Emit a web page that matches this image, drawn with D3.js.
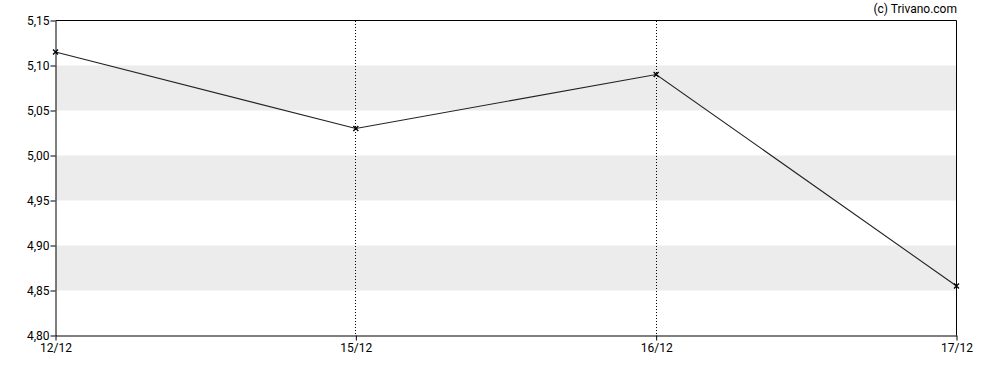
<!DOCTYPE html>
<html><head><meta charset="utf-8">
<script src="https://cdn.jsdelivr.net/npm/d3@7"></script>
<style>body{margin:0;background:#fff;}svg{display:block;font-family:Roboto,Arial,sans-serif;}</style>
</head><body>
<svg id="c" width="988" height="370"></svg>
<script>
const categories = ["12/12","15/12","16/12","17/12"];
const values = [5.115, 5.03, 5.09, 4.855];
const yTicks = [4.80,4.85,4.90,4.95,5.00,5.05,5.10,5.15];
const bands = [[4.85,4.90],[4.95,5.00],[5.05,5.10]];

const svg = d3.select("#c");
const L=55.5, R=956.5, T=20.5, B=335.5;
const x = d3.scalePoint().domain(categories).range([L,R]);
const y = d3.scaleLinear().domain([4.80,5.15]).range([B,T]);
const fmt = v => d3.format(".2f")(v).replace(".",",");

svg.append("g").selectAll("rect").data(bands).join("rect")
  .attr("x",L).attr("width",R-L)
  .attr("y",d=>y(d[1])).attr("height",d=>y(d[0])-y(d[1]))
  .attr("fill","#ececec");

svg.append("g").selectAll("line").data(categories.slice(1,-1)).join("line")
  .attr("x1",d=>x(d)).attr("x2",d=>x(d)).attr("y1",T).attr("y2",B)
  .attr("stroke","#000").attr("stroke-dasharray","1,2").attr("shape-rendering","crispEdges");

svg.append("line").attr("x1",L).attr("x2",R).attr("y1",T).attr("y2",T).attr("stroke","#000");
svg.append("line").attr("x1",R).attr("x2",R).attr("y1",T).attr("y2",B).attr("stroke","#000");

const yAxis = svg.append("g").attr("transform",`translate(${L},0)`)
  .call(d3.axisLeft(y).tickValues(yTicks).tickFormat(fmt).tickSize(5).tickSizeOuter(0));
const xAxis = svg.append("g").attr("transform",`translate(0,${B})`)
  .call(d3.axisBottom(x).tickSize(5).tickSizeOuter(0));
[yAxis,xAxis].forEach(g=>{
  g.select(".domain").attr("stroke","#000");
  g.selectAll(".tick line").attr("stroke","#000");
  g.selectAll("text").attr("fill","#000").style("font-size","12px").style("font-family","Roboto,Arial,sans-serif");
});
yAxis.selectAll("text").attr("x",-6);
xAxis.selectAll("text").attr("y",8);

const line = d3.line().x((d,i)=>x(categories[i])).y(d=>y(d));
svg.append("path").datum(values).attr("d",line).attr("fill","none").attr("stroke","#222").attr("stroke-width",1.1);

svg.append("g").selectAll("path").data(values).join("path")
  .attr("d",(d,i)=>{const cx=x(categories[i]),cy=y(d),s=2.5;return `M${cx-s},${cy-s}L${cx+s},${cy+s}M${cx-s},${cy+s}L${cx+s},${cy-s}`;})
  .attr("stroke","#000").attr("stroke-width",1.3);

svg.append("text").attr("x",957).attr("y",13).attr("text-anchor","end")
  .style("font-size","12px").attr("fill","#000").text("(c) Trivano.com");
</script>
</body></html>
